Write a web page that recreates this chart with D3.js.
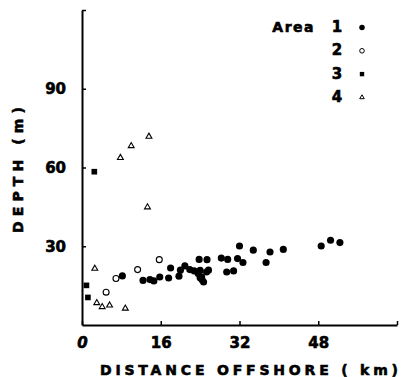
<!DOCTYPE html>
<html>
<head>
<meta charset="utf-8">
<script src="https://cdn.jsdelivr.net/npm/d3@7"></script>
<style>
  html, body { margin: 0; padding: 0; background: #fff; }
  svg { display: block; font-family: "DejaVu Sans", sans-serif; font-weight: bold; }
  .heavy { stroke: #000; stroke-width: 0.6px; }
</style>
</head>
<body>
<div id="chart"></div>
<script>
// [distance offshore (km), depth (m)] per area
const area1 = [
  [8.2, 18.7], [12.4, 17.0], [13.8, 17.3], [14.6, 16.8], [15.8, 18.3], [17.6, 17.9],
  [18.0, 21.7], [19.7, 18.6], [20.0, 20.9], [20.9, 22.5], [21.9, 21.1], [22.8, 20.6],
  [23.8, 25.0], [25.4, 24.9], [23.6, 19.6], [24.0, 18.0], [24.3, 18.3], [24.7, 16.4],
  [24.4, 17.2], [25.3, 20.2], [25.7, 20.9], [24.0, 20.8], [28.3, 25.5], [29.6, 25.0],
  [29.4, 20.2], [30.8, 20.6], [31.6, 25.3], [32.0, 30.1], [32.7, 23.8], [34.8, 28.5],
  [37.4, 23.8], [38.2, 27.8], [40.9, 28.8], [48.6, 30.1], [50.5, 32.3], [52.4, 31.4]
];
const area2 = [[6.9, 17.7], [4.9, 12.5], [11.3, 21.1], [15.7, 24.9]];
const area3 = [[0.9, 15.1], [1.2, 10.5], [2.5, 58.4]];
const area4 = [
  [13.6, 71.8], [10.0, 68.2], [7.8, 63.7], [13.3, 44.9], [2.6, 21.5],
  [3.0, 8.4], [4.1, 6.9], [5.6, 7.5], [8.8, 6.3]
];

const areaNames = ["1", "2", "3", "4"];
const xTicks = [0, 16, 32, 48, 64];
const yTicks = [30, 60, 90, 120];

const width = 402, height = 377;

const svg = d3.select("#chart").append("svg")
  .attr("width", width)
  .attr("height", height);

const x = d3.scaleLinear().domain([0, 64]).range([82, 397]);
const y = d3.scaleLinear().domain([0, 120]).range([325, 10]);

// axes, ticks point inward
const yAxis = svg.append("g")
  .attr("transform", `translate(${x(0)},0)`)
  .call(d3.axisLeft(y).tickValues(yTicks).tickSizeInner(-4).tickSizeOuter(0).tickPadding(16)
    .tickFormat(d => d === 120 ? "" : d));

const xAxis = svg.append("g")
  .attr("transform", `translate(0,${y(0)})`)
  .call(d3.axisBottom(x).tickValues(xTicks).tickSizeInner(-4).tickSizeOuter(0).tickPadding(12)
    .tickFormat(d => d === 64 ? "" : d));

[xAxis, yAxis].forEach(g => {
  g.select(".domain").attr("stroke", "#000").attr("stroke-width", 2);
  g.selectAll(".tick line").attr("stroke", "#000").attr("stroke-width", 1.5);
  g.selectAll(".tick text")
    .attr("fill", "#000")
    .attr("class", "heavy")
    .style("font-family", "DejaVu Sans, sans-serif")
    .style("font-weight", "bold")
    .style("font-size", "15px");
});
xAxis.selectAll(".tick text").filter(d => d === 0).style("font-style", "italic");

// axis titles
svg.append("text")
  .attr("class", "heavy")
  .attr("x", 100)
  .attr("y", 375)
  .attr("textLength", 298)
  .attr("lengthAdjust", "spacing")
  .style("font-size", "14px")
  .text("DISTANCE OFFSHORE ( km)");

svg.append("text")
  .attr("class", "heavy")
  .attr("transform", "translate(23,233) rotate(-90)")
  .attr("textLength", 126)
  .attr("lengthAdjust", "spacing")
  .style("font-size", "14px")
  .text("DEPTH (m)");

// marker styles per area
const styles = [
  { type: d3.symbolCircle, size: 40, fill: "#000", stroke: "none" },
  { type: d3.symbolCircle, size: 28, fill: "#fff", stroke: "#000" },
  { type: d3.symbolSquare, size: 32, fill: "#000", stroke: "none" },
  { type: d3.symbolTriangle, size: 15, fill: "#fff", stroke: "#000" }
];

const areas = [area1, area2, area3, area4];

areas.forEach((pts, i) => {
  const st = styles[i];
  svg.append("g").selectAll("path")
    .data(pts)
    .enter()
    .append("path")
    .attr("transform", d => `translate(${x(d[0])},${y(d[1])})`)
    .attr("d", d3.symbol().type(st.type).size(st.size))
    .attr("fill", st.fill)
    .attr("stroke", st.stroke)
    .attr("stroke-width", 1.1);
});

// legend
const legend = svg.append("g");
legend.append("text")
  .attr("class", "heavy")
  .attr("x", 315)
  .attr("y", 32)
  .attr("text-anchor", "end")
  .attr("letter-spacing", 1.5)
  .style("font-size", "14px")
  .text("Area");

areaNames.forEach((name, i) => {
  const rowY = 32 + i * 23.3;
  legend.append("text")
    .attr("class", "heavy")
    .attr("x", 337)
    .attr("y", rowY)
    .attr("text-anchor", "middle")
    .style("font-size", "15px")
    .text(name);
  const st = styles[i];
  legend.append("path")
    .attr("transform", `translate(362,${rowY - 4.5})`)
    .attr("d", d3.symbol().type(st.type).size(st.size * 0.6))
    .attr("fill", st.fill)
    .attr("stroke", st.stroke)
    .attr("stroke-width", 1);
});
</script>
</body>
</html>
